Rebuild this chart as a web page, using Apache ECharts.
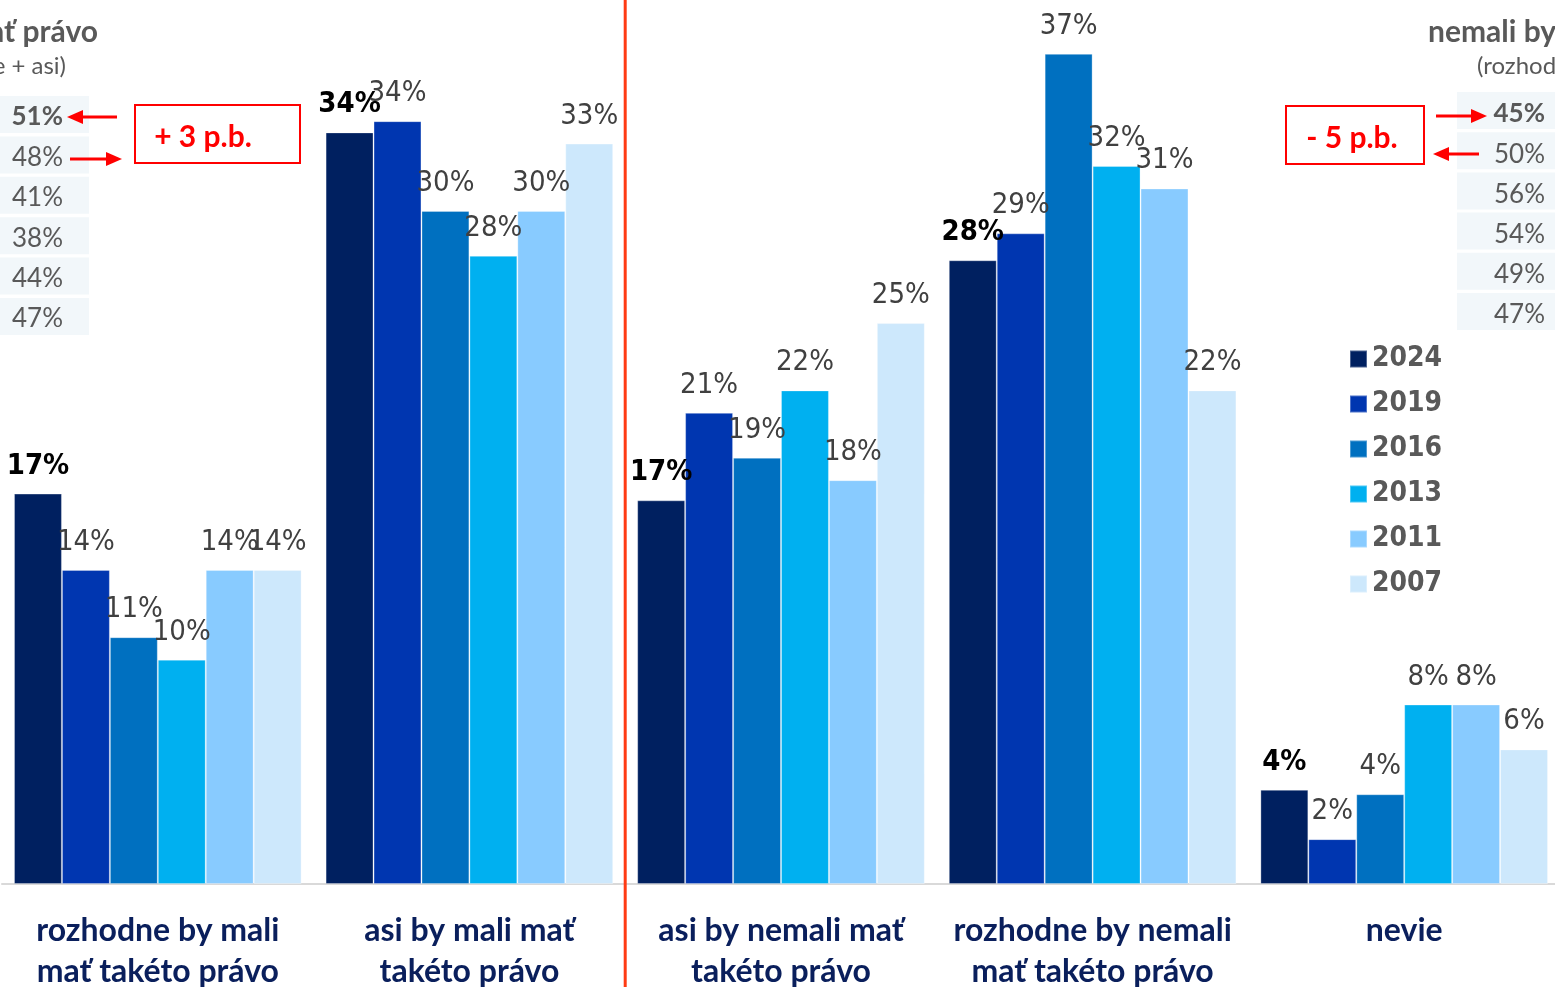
<!DOCTYPE html>
<html><head><meta charset="utf-8">
<script src="https://cdn.jsdelivr.net/npm/echarts@6/dist/echarts.min.js"></script>
<style>html,body{margin:0;padding:0;background:#fff;overflow:hidden}#c{width:1555px;height:987px}</style>
</head><body><div id="c"></div>
<script>
const categories = ['rozhodne by mali\nmať takéto právo','asi by mali mať\ntakéto právo','asi by nemali mať\ntakéto právo','rozhodne by nemali\nmať takéto právo','nevie'];
const years = ['2024','2019','2016','2013','2011','2007'];
const v2024 = [17.4, 33.5, 17.1, 27.8, 4.2];
const v2019 = [14, 34, 21, 29, 2];
const v2016 = [11, 30, 19, 37, 4];
const v2013 = [10, 28, 22, 32, 8];
const v2011 = [14, 30, 18, 31, 8];
const v2007 = [14, 33, 25, 22, 6];
const shouldHave = ['51%','48%','41%','38%','44%','47%'];
const shouldNotHave = ['45%','50%','56%','54%','49%','47%'];
const leftTitle = 'mali by mať právo';
const rightTitle = 'nemali by mať právo';
const subTitle = '(rozhodne + asi)';
const diffLeft = '+ 3 p.b.';
const diffRight = '- 5 p.b.';

const colors = ['#002060','#0036B0','#0070C0','#00B0F0','#88CBFF','#CDE8FC'];
const seriesValues = [v2024, v2019, v2016, v2013, v2011, v2007];
const narrow = "'Liberation Sans Narrow','DejaVu Sans Condensed','Roboto Condensed',Arial,sans-serif";
const cal = "Lato,'Open Sans',sans-serif";

const chart = echarts.init(document.getElementById('c'));
const series = years.map((y, i) => ({
  name: y, type: 'bar', data: seriesValues[i],
  itemStyle: { color: colors[i], borderColor: 'rgba(255,255,255,0.3)', borderWidth: 1 },
  barGap: '0%', barCategoryGap: '7.7%',
  label: {
    show: true, position: 'top', distance: 13,
    formatter: p => Math.round(p.value) + '%',
    fontFamily: narrow, fontSize: 29,
    fontWeight: i === 0 ? 'bold' : 'normal',
    color: i === 0 ? '#000000' : '#404040'
  }
}));

chart.setOption({
  animation: false,
  backgroundColor: '#ffffff',
  grid: { left: 2, right: -5, top: 0, bottom: 103, outerBoundsMode: 'none', containLabel: false },
  legend: {
    data: years, orient: 'vertical', left: 1349, top: 344, padding: 0,
    icon: 'rect', itemWidth: 17, itemHeight: 17, itemGap: 15,
    textStyle: { fontFamily: narrow, fontSize: 28, fontWeight: 'bold', color: '#595959', lineHeight: 30 }
  },
  xAxis: {
    type: 'category', data: categories,
    axisLine: { show: true, lineStyle: { color: '#D9D9D9', width: 2 } },
    axisTick: { show: false },
    axisLabel: { interval: 0, margin: 26, fontFamily: cal, fontSize: 32, fontWeight: 'bold', color: '#0A1F5C', lineHeight: 41 }
  },
  yAxis: { type: 'value', min: 0, max: 39.4, show: false, splitLine: { show: false } },
  series: series
});

// decorations
const lineX = (chart.convertToPixel({xAxisIndex: 0}, 1) + chart.convertToPixel({xAxisIndex: 0}, 2)) / 2;
const g = [];
g.push({ type: 'line', shape: { x1: lineX, y1: 0, x2: lineX, y2: 987 }, style: { stroke: '#FF3B14', lineWidth: 3 }, z: 10 });
// titles
g.push({ type: 'text', x: 98, y: 32, style: { text: leftTitle, align: 'right', verticalAlign: 'middle', font: "bold 30px Lato", fill: '#595959' } });
g.push({ type: 'text', x: 66, y: 66, style: { text: subTitle, align: 'right', verticalAlign: 'middle', font: "24px Lato", fill: '#595959' } });
g.push({ type: 'text', x: 1428, y: 32, style: { text: rightTitle, align: 'left', verticalAlign: 'middle', font: "bold 30px Lato", fill: '#595959' } });
g.push({ type: 'text', x: 1477, y: 66, style: { text: subTitle, align: 'left', verticalAlign: 'middle', font: "24px Lato", fill: '#595959' } });
// tables
shouldHave.forEach((t, i) => {
  const y0 = 96 + i * 40.4;
  g.push({ type: 'rect', shape: { x: -5, y: y0, width: 94, height: 37 }, style: { fill: '#F2F7FA' } });
  g.push({ type: 'text', x: 63, y: y0 + 21, style: { text: t, align: 'right', verticalAlign: 'middle', font: (i === 0 ? 'bold ' : '') + "26px Lato", fill: '#595959' }, z: 5 });
});
shouldNotHave.forEach((t, i) => {
  const y0 = 92 + i * 40.2;
  g.push({ type: 'rect', shape: { x: 1457, y: y0, width: 110, height: 37 }, style: { fill: '#F2F7FA' } });
  g.push({ type: 'text', x: 1545, y: y0 + 22, style: { text: t, align: 'right', verticalAlign: 'middle', font: (i === 0 ? 'bold ' : '') + "26px Lato", fill: '#595959' }, z: 5 });
});
// boxes
g.push({ type: 'rect', shape: { x: 135, y: 105, width: 165, height: 58 }, style: { fill: 'none', stroke: '#FF0000', lineWidth: 2 } });
g.push({ type: 'text', x: 203, y: 137, style: { text: diffLeft, align: 'center', verticalAlign: 'middle', font: "bold 30px Lato", fill: '#FF0000' } });
g.push({ type: 'rect', shape: { x: 1286, y: 106, width: 138, height: 58 }, style: { fill: 'none', stroke: '#FF0000', lineWidth: 2 } });
g.push({ type: 'text', x: 1352, y: 138, style: { text: diffRight, align: 'center', verticalAlign: 'middle', font: "bold 30px Lato", fill: '#FF0000' } });
// arrows
function arrow(xFrom, xTo, y) {
  const dir = xTo > xFrom ? 1 : -1;
  const base = xTo - dir * 16;
  g.push({ type: 'line', shape: { x1: xFrom, y1: y, x2: base, y2: y }, style: { stroke: '#FF0000', lineWidth: 3 } });
  g.push({ type: 'polygon', shape: { points: [[xTo, y], [base, y - 7], [base, y + 7]] }, style: { fill: '#FF0000' } });
}
arrow(117, 67, 117);
arrow(70, 122, 159);
arrow(1436, 1487, 116);
arrow(1479, 1433, 154);

chart.setOption({ graphic: g });
</script>
</body></html>
